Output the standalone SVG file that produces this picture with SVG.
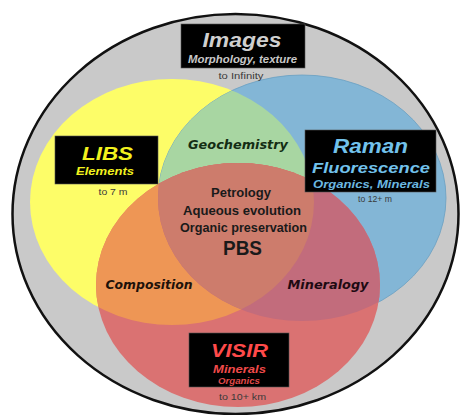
<svg xmlns="http://www.w3.org/2000/svg" width="463" height="415" viewBox="0 0 463 415">
<style>
.box{fill:#000;stroke:#555;stroke-width:0.6}
.h{font-family:"Liberation Sans",Arial,sans-serif;font-weight:bold;font-style:italic;text-anchor:middle}
.s{font-family:"Liberation Sans",Arial,sans-serif;font-size:8.5px;fill:#3a3a3a;text-anchor:middle}
.c{font-family:"Liberation Sans",Arial,sans-serif;font-weight:bold;fill:#1a1a1a;text-anchor:middle}
.r{font-family:"DejaVu Sans","Liberation Sans",sans-serif;font-weight:bold;font-style:italic;font-size:12px;text-anchor:middle}
</style>
<defs>
<clipPath id="cy"><ellipse cx="172" cy="202" rx="142" ry="123"/></clipPath>
<clipPath id="cb"><ellipse cx="302" cy="198" rx="144" ry="123"/></clipPath>
</defs>
<rect width="463" height="415" fill="#fff"/>
<g id="outer">
<ellipse cx="235.5" cy="214" rx="223" ry="200" fill="#c9c9c9" stroke="#111" stroke-width="2.5"/>
</g>
<g id="circles">
<ellipse id="libs-circle" cx="172" cy="202" rx="142" ry="123" fill="#fdfd68"/>
<ellipse id="raman-circle" cx="302" cy="198" rx="144" ry="123" fill="#83b6d6" stroke="#6a9fc2" stroke-width="0.8"/>
<ellipse cx="302" cy="198" rx="144" ry="123" fill="#a8d6a2" clip-path="url(#cy)"/>
<ellipse id="visir-circle" cx="238" cy="285" rx="142" ry="122" fill="#da7272"/>
<ellipse cx="238" cy="285" rx="142" ry="122" fill="#ee9655" clip-path="url(#cy)"/>
<ellipse cx="238" cy="285" rx="142" ry="122" fill="#c26c7c" clip-path="url(#cb)"/>
<g clip-path="url(#cy)"><ellipse cx="238" cy="285" rx="142" ry="122" fill="#cd7c6c" clip-path="url(#cb)"/></g>
</g>
<g id="images">
<rect class="box" x="181" y="24" width="124" height="44"/>
<text class="h" x="242" y="47" font-size="20" fill="#cfcfcf" textLength="79" lengthAdjust="spacingAndGlyphs">Images</text>
<text class="h" x="242.5" y="62.5" font-size="10" fill="#c8c8c8" textLength="109" lengthAdjust="spacingAndGlyphs">Morphology, texture</text>
<text class="s" x="241" y="79" textLength="45" lengthAdjust="spacingAndGlyphs">to Infinity</text>
</g>
<g id="libs">
<rect class="box" x="55" y="136" width="103" height="48"/>
<text class="h" x="107.5" y="160" font-size="19" fill="#f2f21e" textLength="51" lengthAdjust="spacingAndGlyphs">LIBS</text>
<text class="h" x="105" y="175" font-size="11" fill="#f2f21e" textLength="58" lengthAdjust="spacingAndGlyphs">Elements</text>
<text class="s" x="113" y="194.5" textLength="29" lengthAdjust="spacingAndGlyphs">to 7 m</text>
</g>
<g id="raman">
<rect class="box" x="305" y="130" width="131" height="62"/>
<text class="h" x="370.5" y="153" font-size="20" fill="#72c2ec" textLength="75" lengthAdjust="spacingAndGlyphs">Raman</text>
<text class="h" x="371" y="173" font-size="15" fill="#72c2ec" textLength="118" lengthAdjust="spacingAndGlyphs">Fluorescence</text>
<text class="h" x="371.5" y="188" font-size="10.5" fill="#6cb8e0" textLength="117" lengthAdjust="spacingAndGlyphs">Organics, Minerals</text>
<text class="s" x="375" y="202" textLength="34" lengthAdjust="spacingAndGlyphs">to 12+ m</text>
</g>
<g id="visir">
<rect class="box" x="189" y="333" width="100" height="54"/>
<text class="h" x="239.5" y="357" font-size="19" fill="#ff4a4a" textLength="57" lengthAdjust="spacingAndGlyphs">VISIR</text>
<text class="h" x="239.5" y="373" font-size="11" fill="#f04a4a" textLength="53" lengthAdjust="spacingAndGlyphs">Minerals</text>
<text class="h" x="239" y="384" font-size="8.5" fill="#e04a4a" textLength="42" lengthAdjust="spacingAndGlyphs">Organics</text>
<text class="s" x="242.5" y="400" textLength="47" lengthAdjust="spacingAndGlyphs">to 10+ km</text>
</g>
<g id="regions">
<text class="r" x="238" y="149" fill="#142e14" textLength="100" lengthAdjust="spacingAndGlyphs">Geochemistry</text>
<text class="r" x="149" y="289" fill="#1e120a" textLength="87" lengthAdjust="spacingAndGlyphs">Composition</text>
<text class="r" x="328" y="289" fill="#1e0a12" textLength="81" lengthAdjust="spacingAndGlyphs">Mineralogy</text>
</g>
<g id="pbs">
<text class="c" x="241" y="197" font-size="13" textLength="60" lengthAdjust="spacingAndGlyphs">Petrology</text>
<text class="c" x="242" y="215" font-size="13" textLength="118" lengthAdjust="spacingAndGlyphs">Aqueous evolution</text>
<text class="c" x="243.5" y="232" font-size="13" textLength="127" lengthAdjust="spacingAndGlyphs">Organic preservation</text>
<text class="c" x="242.5" y="255" font-size="20" textLength="39" lengthAdjust="spacingAndGlyphs">PBS</text>
</g>
<g id="connectors"/>
</svg>
